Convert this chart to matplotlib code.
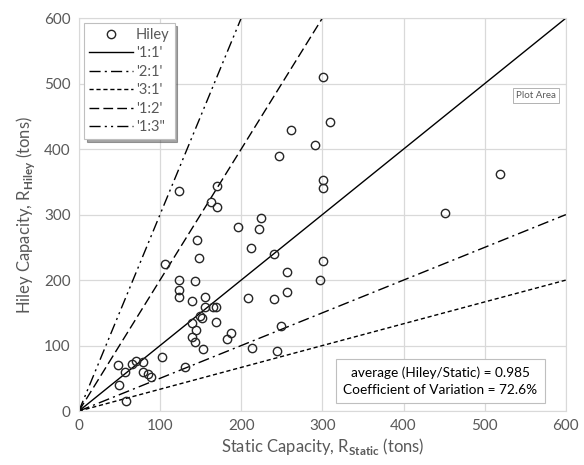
import numpy as np
import matplotlib
matplotlib.use('Agg')
import matplotlib.pyplot as plt

plt.rcParams['font.family'] = ['Lato', 'DejaVu Sans']
plt.rcParams['mathtext.fontset'] = 'custom'
plt.rcParams['mathtext.rm'] = 'Lato'
plt.rcParams['mathtext.bf'] = 'Lato:bold'

# static vs hiley capacities (tons)
static = [246, 301, 301, 123, 170, 163, 170, 225, 196, 222,
          145, 212, 240, 148, 301, 106, 256, 124, 143, 297,
          123, 123, 140, 155, 209, 241, 256, 155, 165, 169,
          149, 152, 140, 169, 144, 140, 143, 188, 182, 153,
          249, 213, 244, 102, 131, 79, 71, 66, 48, 57,
          79, 85, 89, 49, 58, 301, 310, 261, 291, 519, 451]
hiley = [389, 353, 341, 336, 344, 319, 311, 295, 281, 278,
         261, 249, 240, 234, 229, 225, 212, 200, 199, 200,
         185, 174, 168, 174, 173, 171, 182, 159, 159, 159,
         145, 142, 134, 136, 124, 113, 105, 119, 110, 95,
         130, 96, 92, 82, 67, 75, 76, 72, 70, 60,
         60, 56, 52, 40, 15, 510, 441, 429, 406, 362, 302]

ratio_labels = ["'1:1'", "'2:1'", "'3:1'", "'1:2'", "'1:3\""]
ratio_slopes = [1.0, 0.5, 1.0 / 3, 2.0, 3.0]
ratio_styles = ['-', (0, (8, 3, 1.5, 3)), (0, (3, 2)), (0, (7, 3)), (0, (8, 3, 1.5, 3, 1.5, 3))]

xticks = [0, 100, 200, 300, 400, 500, 600]
yticks = [0, 100, 200, 300, 400, 500, 600]

grey = '#595959'
gridc = '#d9d9d9'

fig = plt.figure(figsize=(5.84, 4.65), dpi=100)
ax = fig.add_axes([0.135, 0.116, 0.834, 0.845])

ax.plot(static, hiley, linestyle='none', marker='o', mfc='none', mec='#262626',
        ms=6.0, mew=1.0, label='Hiley', zorder=3)

xs = np.array([0, 600])
for lab, s, ls in zip(ratio_labels, ratio_slopes, ratio_styles):
    ax.plot(xs, xs * s, color='black', lw=1.0, linestyle=ls, label=lab, zorder=2)

ax.set_xlim(0, 600)
ax.set_ylim(0, 600)
ax.set_xticks(xticks)
ax.set_yticks(yticks)
ax.grid(True, color=gridc, lw=0.9, zorder=0)
ax.set_axisbelow(True)
for sp in ax.spines.values():
    sp.set_color(gridc)
ax.tick_params(length=0, colors=grey, labelsize=11, pad=6)

ax.set_xlabel(r'Static Capacity, R$_{\mathbf{Static}}$ (tons)', color=grey, fontsize=12, labelpad=2)
ax.set_ylabel(r'Hiley Capacity, R$_{\mathbf{Hiley}}$ (tons)', color=grey, fontsize=12, labelpad=5)

leg = ax.legend(loc='upper left', bbox_to_anchor=(0.005, 0.995), fontsize=10.5,
                frameon=True, fancybox=False, shadow=True, handlelength=3.0,
                borderpad=0.35, labelspacing=0.3, handletextpad=0.2,
                borderaxespad=0.2)
leg.get_frame().set_edgecolor('#bfbfbf')
leg.get_frame().set_linewidth(0.8)
for t in leg.get_texts():
    t.set_color(grey)

ax.text(0.742, 0.076, 'average (Hiley/Static) = 0.985\nCoefficient of Variation = 72.6%',
        transform=ax.transAxes, ha='center', va='center', fontsize=9.8,
        color='black', linespacing=1.45,
        bbox=dict(boxstyle='square,pad=0.55', fc='white', ec='#bfbfbf', lw=0.8))

ax.text(0.938, 0.804, 'Plot Area', transform=ax.transAxes, ha='center', va='center',
        fontsize=7, color=grey,
        bbox=dict(boxstyle='square,pad=0.3', fc='white', ec='#a6a6a6', lw=0.6))

fig.savefig('out.png', dpi=100)
